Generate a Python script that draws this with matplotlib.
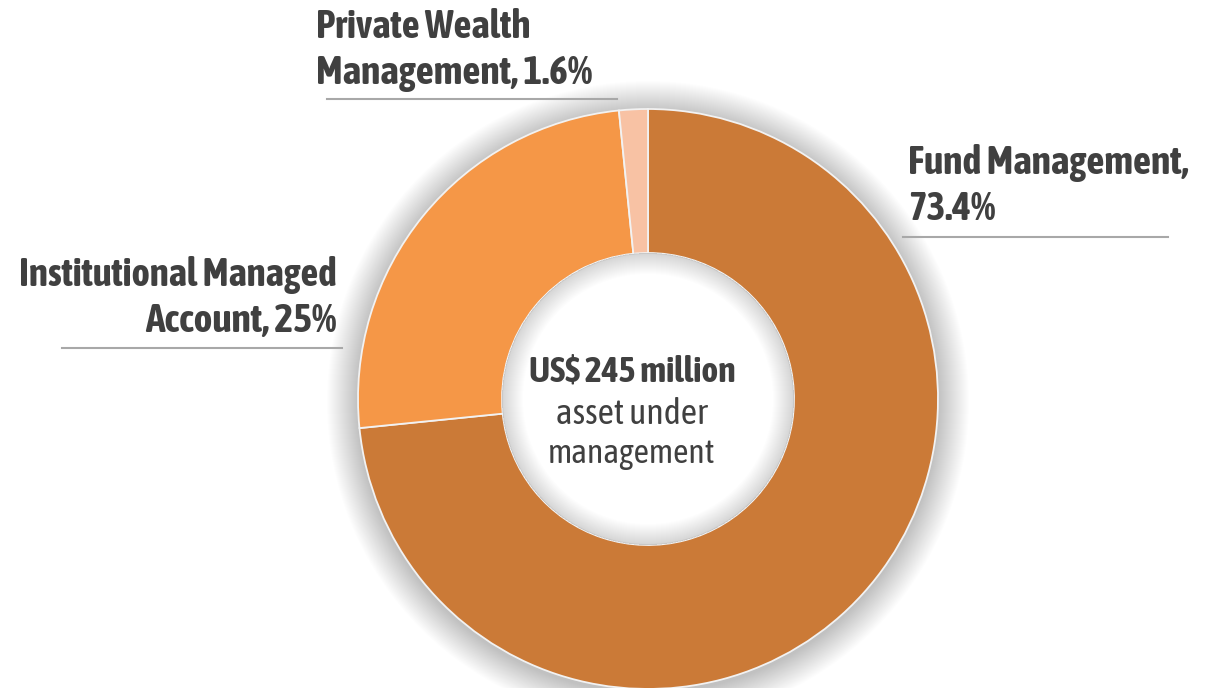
import matplotlib.pyplot as plt
from matplotlib import font_manager
from matplotlib.patches import Wedge

# Asset under management split
segments = ["Fund Management", "Institutional Managed Account", "Private Wealth Management"]
shares = [73.4, 25.0, 1.6]
share_text = ["73.4%", "25%", "1.6%"]
colors = ["#CB7A37", "#F59747", "#F8C2A4"]
center_lines = ["US$ 245 million", "asset under", "management"]

# pick a narrow face that also has a bold cut
fonts = font_manager.fontManager.ttflist


def _w(f):
    w = f.weight
    if isinstance(w, str):
        w = font_manager.weight_dict.get(w, 400)
    return w


narrow = sorted({f.name for f in fonts if "Condensed" in f.name or "Narrow" in f.name})
family = "Roboto"
for name in narrow:
    if any(f.name == name and _w(f) >= 600 for f in fonts):
        family = name
        break
plt.rcParams['font.family'] = [family, 'DejaVu Sans']

TXT = "#404040"
RULE = "#A8A8A8"

fig = plt.figure(figsize=(12.11, 6.88), dpi=100)
ax = fig.add_axes([0, 0, 1, 1])
# axes units = pixels, y grows downward
ax.set_xlim(0, 1211)
ax.set_ylim(688, 0)
ax.axis('off')

cx, cy = 648, 399
r_out, r_in = 290, 146

# soft shadow around the ring and inside the hole
for k in range(1, 32):
    ax.add_patch(Wedge((cx, cy + 3), r_out + k, 0, 360, width=k + 3,
                       facecolor='#000000', edgecolor='none', alpha=0.0075, zorder=0))
for k in range(1, 22):
    ax.add_patch(Wedge((cx, cy), r_in, 0, 360, width=k,
                       facecolor='#000000', edgecolor='none', alpha=0.006, zorder=3))

# y axis is inverted, so start at -90 and go "counterclockwise" to read clockwise from top
ax.pie(shares, colors=colors, center=(cx, cy), radius=r_out, startangle=-90,
       counterclock=True, frame=True,
       wedgeprops=dict(width=r_out - r_in, edgecolor='#F2F2F2', linewidth=1.3))
ax.set_xlim(0, 1211)
ax.set_ylim(688, 0)
ax.axis('off')

renderer = fig.canvas.get_renderer()


def fitted(x, y, s, target_w, size, ha='left', weight='bold', z=5):
    t = ax.text(x, y, s, fontsize=size, fontweight=weight, color=TXT,
                va='baseline', ha=ha, zorder=z)
    w = t.get_window_extent(renderer).width
    new = min(max(size * target_w / w, size * 0.8), size * 1.12)
    t.set_fontsize(new)
    return t


fs = 25.5
# Private Wealth Management (top)
fitted(316, 38, "Private Wealth", 214, fs)
fitted(316, 84, f"Management, {share_text[2]}", 282, fs)
ax.plot([327, 617], [99, 99], color=RULE, lw=1.5)

# Fund Management (right)
fitted(908, 174, "Fund Management,", 282, fs)
fitted(908, 220, share_text[0], 92, fs)
ax.plot([903, 1168], [237, 237], color=RULE, lw=1.5)

# Institutional Managed Account (left)
fitted(337, 286, "Institutional Managed", 317, fs, ha='right')
fitted(337, 332, f"Account, {share_text[1]}", 202, fs, ha='right')
ax.plot([62, 342], [348, 348], color=RULE, lw=1.5)

# centre caption
fitted(632, 382, center_lines[0], 218, 23, ha='center')
fitted(632, 424, center_lines[1], 160, 23, ha='center', weight='normal')
fitted(632, 463, center_lines[2], 168, 23, ha='center', weight='normal')

fig.savefig("out.png", dpi=100)
